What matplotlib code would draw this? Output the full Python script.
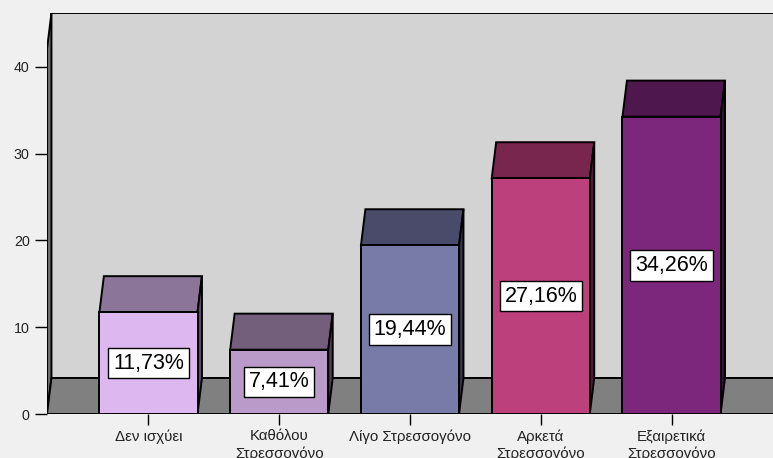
import numpy as np
import matplotlib.pyplot as plt

plt.rcParams['font.family'] = ['Liberation Sans', 'DejaVu Sans']

categories = ['Δεν ισχύει', 'Καθόλου\nΣτρεσσογόνο', 'Λίγο Στρεσσογόνο',
              'Αρκετά\nΣτρεσσογόνο', 'Εξαιρετικά\nΣτρεσσογόνο']
values = [11.73, 7.41, 19.44, 27.16, 34.26]
labels = ['11,73%', '7,41%', '19,44%', '27,16%', '34,26%']
front_colors = ['#ddb7f0', '#b99ac8', '#787aa8', '#bc407c', '#7c267c']
top_colors = ['#8b7598', '#735e7c', '#4a4a6a', '#78264e', '#4e184e']
side_colors = ['#604f6a', '#4f4056', '#33334a', '#541a36', '#361036']
yticks = [0, 10, 20, 30, 40]

# 3d look: depth offset in data units
dx, dy = 0.034, 4.15
width = 0.75
xmin, xmax = -0.776, 4.776
ymax = 46.2

fig = plt.figure(figsize=(7.73, 4.58), dpi=100, facecolor='#f0f0f0')
ax = fig.add_axes([47 / 773, 44 / 458, 726 / 773, 401 / 458])
ax.set_facecolor('none')
ax.set_xlim(xmin, xmax)
ax.set_ylim(0, ymax)
for s in ax.spines.values():
    s.set_visible(False)

lw = 1.4
# back wall
ax.fill([xmin + dx, xmin + dx, xmax + 1, xmax + 1], [dy, ymax, ymax, dy],
        fc='#d3d3d3', ec='black', lw=lw, zorder=1)
# left wall
ax.fill([xmin, xmin, xmin + dx, xmin + dx], [0, ymax - dy, ymax, dy],
        fc='#6e6e6e', ec='black', lw=lw, zorder=2)
# floor
ax.fill([xmin, xmin + dx, xmax + 1, xmax + 1], [0, dy, dy, 0],
        fc='#808080', ec='black', lw=lw, zorder=2)

x = np.arange(len(values))
ax.bar(x, values, width=width, color=front_colors, edgecolor='black', lw=lw, zorder=4)
for xi, v, tc, sc, lab in zip(x, values, top_colors, side_colors, labels):
    x0, x1 = xi - width / 2, xi + width / 2
    ax.fill([x0, x0 + dx, x1 + dx, x1], [v, v + dy, v + dy, v],
            fc=tc, ec='black', lw=lw, zorder=3)
    ax.fill([x1, x1 + dx, x1 + dx, x1], [0, dy, v + dy, v],
            fc=sc, ec='black', lw=lw, zorder=3)
    ax.text(xi, v / 2, lab, ha='center', va='center', fontsize=15.5, zorder=5,
            bbox=dict(boxstyle='square,pad=0.22', fc='white', ec='black', lw=1.0))

ax.set_xticks(x)
ax.set_xticklabels(categories, fontsize=10.8, linespacing=1.25, color='#222222')
ax.set_yticks(yticks)
ax.tick_params(axis='y', length=8.5, width=1.0, pad=4, labelsize=10.3, labelcolor='#222222')
ax.tick_params(axis='x', length=8, width=1.0, pad=3)

fig.savefig('out.png', dpi=100, facecolor=fig.get_facecolor())
